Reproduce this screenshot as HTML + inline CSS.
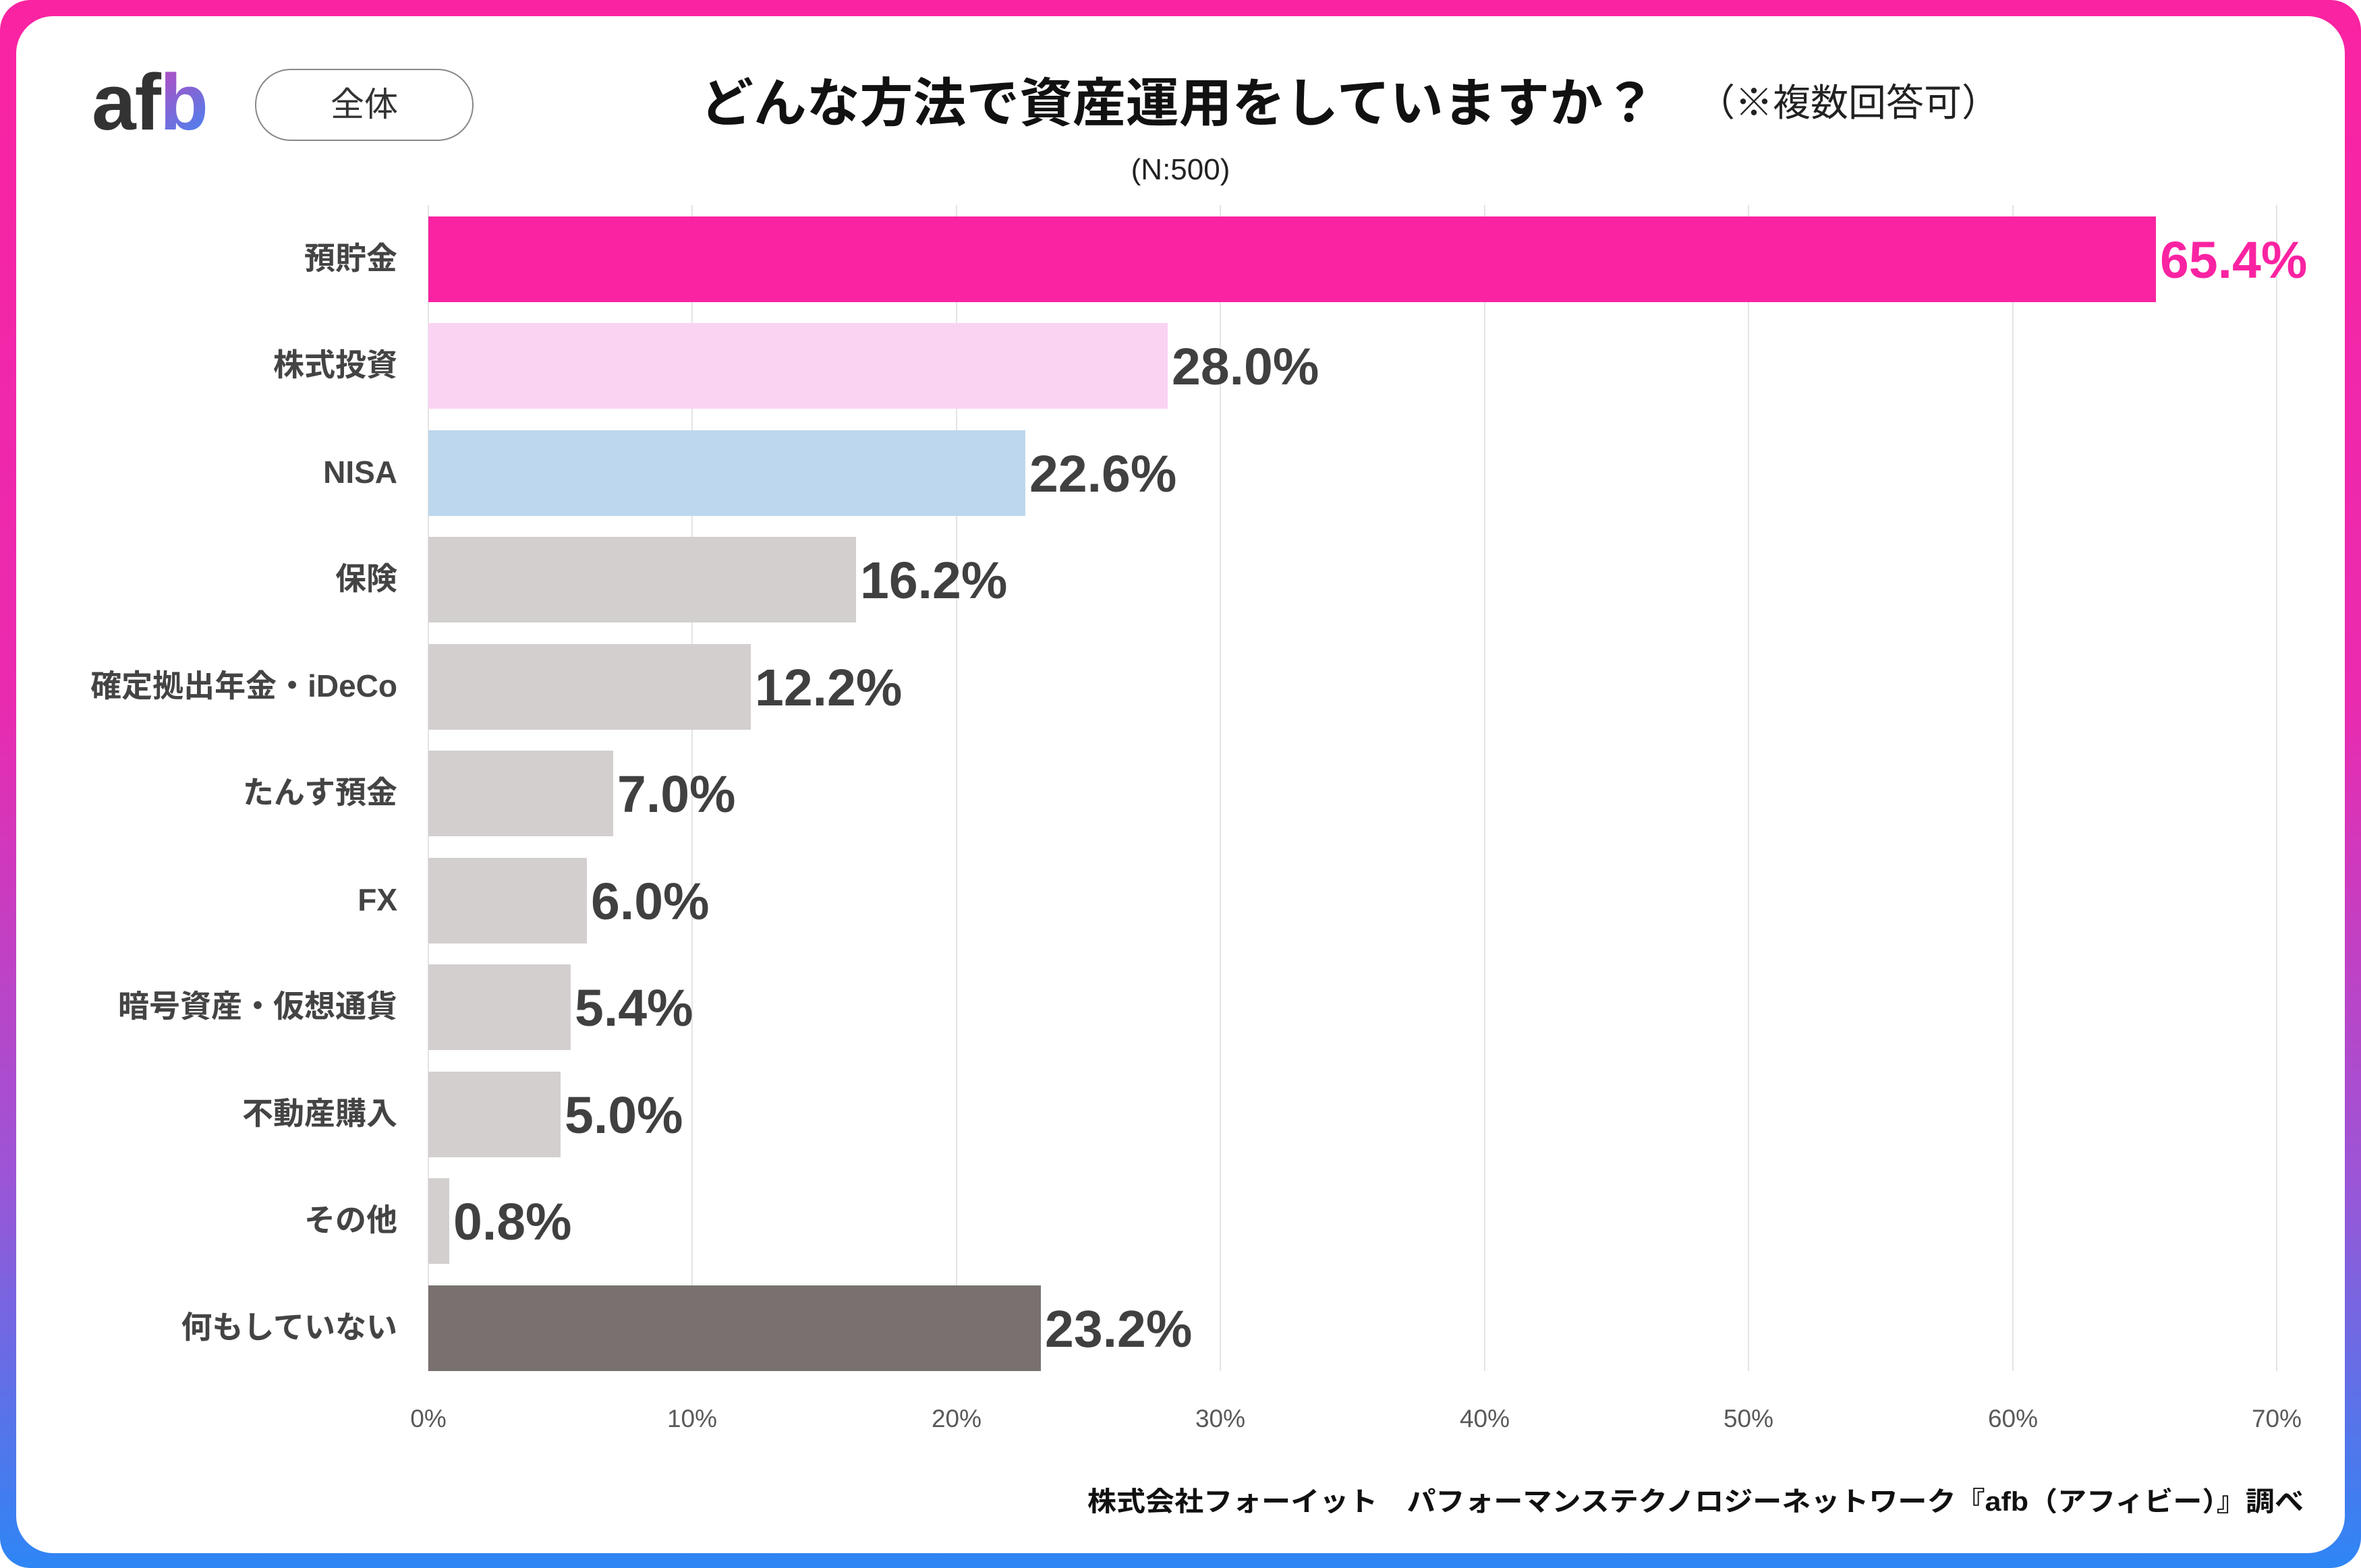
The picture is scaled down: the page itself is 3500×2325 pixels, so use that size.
<!DOCTYPE html>
<html><head><meta charset="utf-8"><style>
html,body{margin:0;padding:0;background:#fff;}
svg{display:block;}
text{font-family:"Liberation Sans","Noto Sans CJK JP",sans-serif;}
</style></head><body>
<svg width="3500" height="2325" viewBox="0 0 3500 2325" xmlns="http://www.w3.org/2000/svg">
<defs>
<linearGradient id="bg" x1="0" y1="0" x2="0" y2="1">
<stop offset="0" stop-color="#FA23A2"/><stop offset="0.45" stop-color="#E92BB0"/><stop offset="0.75" stop-color="#9C55D6"/><stop offset="1" stop-color="#2E86F5"/>
</linearGradient>
<linearGradient id="lb" x1="0" y1="0" x2="1" y2="1">
<stop offset="0" stop-color="#F52AA5"/><stop offset="1" stop-color="#3A8BF5"/>
</linearGradient>
</defs>
<rect x="0" y="0" width="3500" height="2325" rx="45" fill="url(#bg)"/>
<rect x="24" y="24" width="3452" height="2279" rx="55" fill="#fff"/>
<!-- logo -->
<text x="136" y="192" font-size="118" font-weight="bold" fill="#333" style="letter-spacing:-2px">af<tspan fill="url(#lb)">b</tspan></text>
<rect x="379" y="103" width="322" height="105" rx="52" fill="#fff" stroke="#888" stroke-width="2"/>
<text x="540" y="172" font-size="50" fill="#333" text-anchor="middle">全体</text>
<!-- title -->
<text x="1038" y="180" font-size="78" font-weight="bold" fill="#111" textLength="1417" lengthAdjust="spacingAndGlyphs">どんな方法で資産運用をしていますか？</text>
<text x="2740" y="172" font-size="56" fill="#222" text-anchor="middle">（※複数回答可）</text>
<text x="1750" y="266" font-size="44" fill="#222" text-anchor="middle">(N:500)</text>
<!-- grid -->
<g stroke="#e4e4e4" stroke-width="2">
<line x1="635" y1="304" x2="635" y2="2033"/><line x1="1026" y1="304" x2="1026" y2="2033"/><line x1="1418" y1="304" x2="1418" y2="2033"/><line x1="1809" y1="304" x2="1809" y2="2033"/><line x1="2201" y1="304" x2="2201" y2="2033"/><line x1="2592" y1="304" x2="2592" y2="2033"/><line x1="2984" y1="304" x2="2984" y2="2033"/><line x1="3375" y1="304" x2="3375" y2="2033"/>
</g>
<g font-size="37" fill="#595959" text-anchor="middle">
<text x="635" y="2116">0%</text><text x="1026" y="2116">10%</text><text x="1418" y="2116">20%</text><text x="1809" y="2116">30%</text><text x="2201" y="2116">40%</text><text x="2592" y="2116">50%</text><text x="2984" y="2116">60%</text><text x="3375" y="2116">70%</text>
</g>
<!-- bars -->
<g>
<rect x="635" y="321" width="2561" height="127" fill="#FA23A2"/>
<rect x="635" y="479" width="1096" height="127" fill="#FAD3F3"/>
<rect x="635" y="638" width="885" height="127" fill="#BDD7EE"/>
<rect x="635" y="796" width="634" height="127" fill="#D4CFCF"/>
<rect x="635" y="955" width="478" height="127" fill="#D4CFCF"/>
<rect x="635" y="1113" width="274" height="127" fill="#D4CFCF"/>
<rect x="635" y="1272" width="235" height="127" fill="#D4CFCF"/>
<rect x="635" y="1430" width="211" height="127" fill="#D4CFCF"/>
<rect x="635" y="1589" width="196" height="127" fill="#D4CFCF"/>
<rect x="635" y="1747" width="31" height="127" fill="#D4CFCF"/>
<rect x="635" y="1906" width="908" height="127" fill="#787170"/>
</g>
<g font-size="46" fill="#444" text-anchor="end" font-weight="bold">
<text x="589" y="399">預貯金</text>
<text x="589" y="557">株式投資</text>
<text x="589" y="716">NISA</text>
<text x="589" y="874">保険</text>
<text x="589" y="1033">確定拠出年金・iDeCo</text>
<text x="589" y="1191">たんす預金</text>
<text x="589" y="1350">FX</text>
<text x="589" y="1508">暗号資産・仮想通貨</text>
<text x="589" y="1667">不動産購入</text>
<text x="589" y="1825">その他</text>
<text x="589" y="1984">何もしていない</text>
</g>
<g font-size="77" font-weight="bold" fill="#404040">
<text x="3202" y="412" fill="#FA23A2">65.4%</text>
<text x="1737" y="570">28.0%</text>
<text x="1526" y="729">22.6%</text>
<text x="1275" y="887">16.2%</text>
<text x="1119" y="1046">12.2%</text>
<text x="915" y="1204">7.0%</text>
<text x="876" y="1363">6.0%</text>
<text x="852" y="1521">5.4%</text>
<text x="837" y="1680">5.0%</text>
<text x="672" y="1838">0.8%</text>
<text x="1549" y="1997">23.2%</text>
</g>
<text x="1612" y="2240" font-size="40" font-weight="bold" fill="#111" textLength="1803" lengthAdjust="spacingAndGlyphs">株式会社フォーイット　パフォーマンステクノロジーネットワーク『afb（アフィビー）』調べ</text>
</svg>
</body></html>
